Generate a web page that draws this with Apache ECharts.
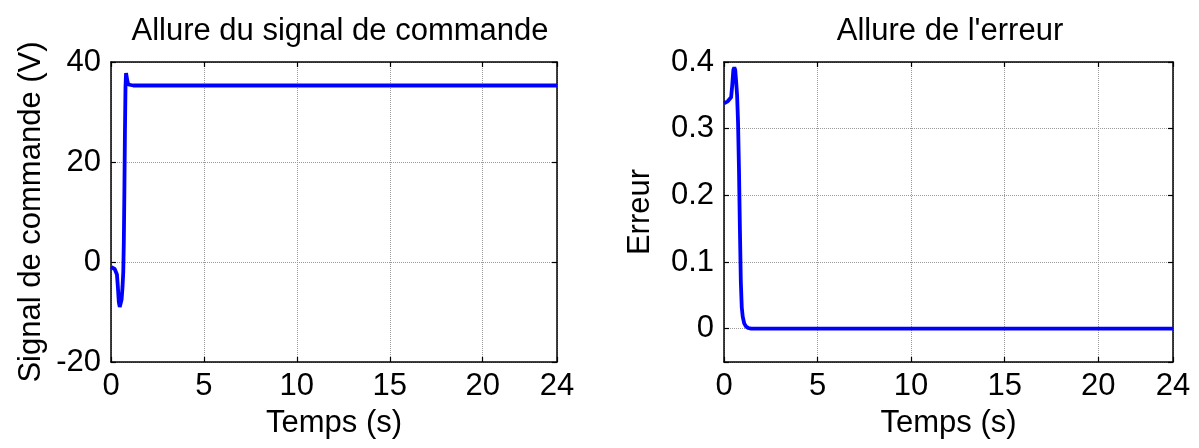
<!DOCTYPE html>
<html>
<head>
<meta charset="utf-8">
<script src="https://cdn.jsdelivr.net/npm/echarts@6/dist/echarts.min.js"></script>
<style>
  html, body { margin: 0; padding: 0; background: #ffffff; }
  #chart { width: 1199px; height: 448px; }
</style>
</head>
<body>
<div id="chart"></div>
<script>
// Time axis limits and tick spacing (seconds)
const timeMin = 0;
const timeMax = 24;
const timeStep = 5;

// Control signal u(t) in volts
const timeU = [0, 0.1, 0.2, 0.27, 0.32, 0.37, 0.42, 0.47, 0.52, 0.57, 0.62, 0.66, 0.69, 0.72, 0.75, 0.78, 0.81, 0.84, 0.88, 0.93, 1.0, 1.2, 24];
const commande = [-1.0, -1.2, -1.4, -1.6, -2.5, -5.0, -8.0, -9.0, -8.8, -7.5, -5.0, -2.0, 4, 14, 26, 35, 37.8, 37.5, 36.2, 35.5, 35.3, 35.3, 35.3];

// Tracking error e(t)
const timeE = [0, 0.1, 0.2, 0.3, 0.38, 0.44, 0.5, 0.55, 0.6, 0.65, 0.7, 0.75, 0.8, 0.85, 0.9, 0.95, 1.0, 1.08, 1.18, 1.3, 1.45, 24];
const erreur = [0.338, 0.340, 0.341, 0.343, 0.347, 0.365, 0.388, 0.392, 0.388, 0.37, 0.35, 0.31, 0.24, 0.15, 0.07, 0.032, 0.018, 0.008, 0.003, 0.001, 0, 0];

// Vertical axis ranges
const uMin = -20, uMax = 40, uStep = 20;
const eMin = -0.05, eMax = 0.4;

// Text
const titreCommande = 'Allure du signal de commande';
const titreErreur = "Allure de l'erreur";
const labelTemps = 'Temps (s)';
const labelCommande = 'Signal de commande (V)';
const labelErreur = 'Erreur';

const FONT = "'Liberation Sans', Arial, sans-serif";
const FS = 31;
const BLUE = '#0000FF';

function pairs(xs, ys) { return xs.map((x, i) => [x, ys[i]]); }

const gridLine = { show: true, lineStyle: { color: '#999999', type: 'dotted', width: 1 } };
const frameLine = { show: true, onZero: false, lineStyle: { color: '#000', width: 1.5 } };
const innerTick = { show: true, inside: true, length: 5, lineStyle: { color: '#000', width: 1.2 } };
const tickText = { color: '#000', fontFamily: FONT, fontSize: FS };

function timeAxis(gridIndex, bottom) {
  return {
    type: 'value', gridIndex, min: timeMin, max: timeMax, interval: timeStep,
    position: bottom ? 'bottom' : 'top',
    axisLine: frameLine, axisTick: innerTick,
    splitLine: bottom ? gridLine : { show: false },
    axisLabel: bottom ? Object.assign({ margin: 9 }, tickText) : { show: false },
    name: bottom ? labelTemps : '',
    nameLocation: 'middle', nameGap: 46,
    nameTextStyle: { color: '#000', fontFamily: FONT, fontSize: FS }
  };
}

function valueAxis(gridIndex, left, min, max, interval, name, nameGap, formatter) {
  const ax = {
    type: 'value', gridIndex, min, max,
    position: left ? 'left' : 'right',
    axisLine: frameLine, axisTick: innerTick,
    splitLine: left ? gridLine : { show: false },
    axisLabel: left ? Object.assign({ margin: 10 }, tickText) : { show: false },
    name: left ? name : '',
    nameLocation: 'middle', nameGap,
    nameTextStyle: { color: '#000', fontFamily: FONT, fontSize: FS }
  };
  if (interval != null) ax.interval = interval;
  if (formatter && left) ax.axisLabel.formatter = formatter;
  return ax;
}

const chart = echarts.init(document.getElementById('chart'), null, { renderer: 'canvas' });

chart.setOption({
  backgroundColor: '#ffffff',
  animation: false,
  title: [
    { text: titreCommande, left: 335, top: 11, textAlign: 'center',
      textStyle: { fontFamily: FONT, fontSize: FS, fontWeight: 'normal', color: '#000' } },
    { text: titreErreur, left: 945, top: 11, textAlign: 'center',
      textStyle: { fontFamily: FONT, fontSize: FS, fontWeight: 'normal', color: '#000' } }
  ],
  grid: [
    { left: 111, top: 62, width: 446, height: 300 },
    { left: 724, top: 62, width: 449, height: 300 }
  ],
  xAxis: [
    timeAxis(0, true), timeAxis(0, false),
    timeAxis(1, true), timeAxis(1, false)
  ],
  yAxis: [
    valueAxis(0, true, uMin, uMax, uStep, labelCommande, 64),
    valueAxis(0, false, uMin, uMax, uStep, '', 0),
    valueAxis(1, true, eMin, eMax, null, labelErreur, 68, v => (v < -1e-9 ? '' : String(+v.toFixed(2)))),
    valueAxis(1, false, eMin, eMax, null, '', 0)
  ],
  series: [
    { type: 'line', xAxisIndex: 0, yAxisIndex: 0, data: pairs(timeU, commande),
      showSymbol: false, lineStyle: { color: BLUE, width: 3.8 }, itemStyle: { color: BLUE } },
    { type: 'line', xAxisIndex: 2, yAxisIndex: 2, data: pairs(timeE, erreur),
      showSymbol: false, lineStyle: { color: BLUE, width: 3.8 }, itemStyle: { color: BLUE } }
  ]
});
</script>
</body>
</html>
